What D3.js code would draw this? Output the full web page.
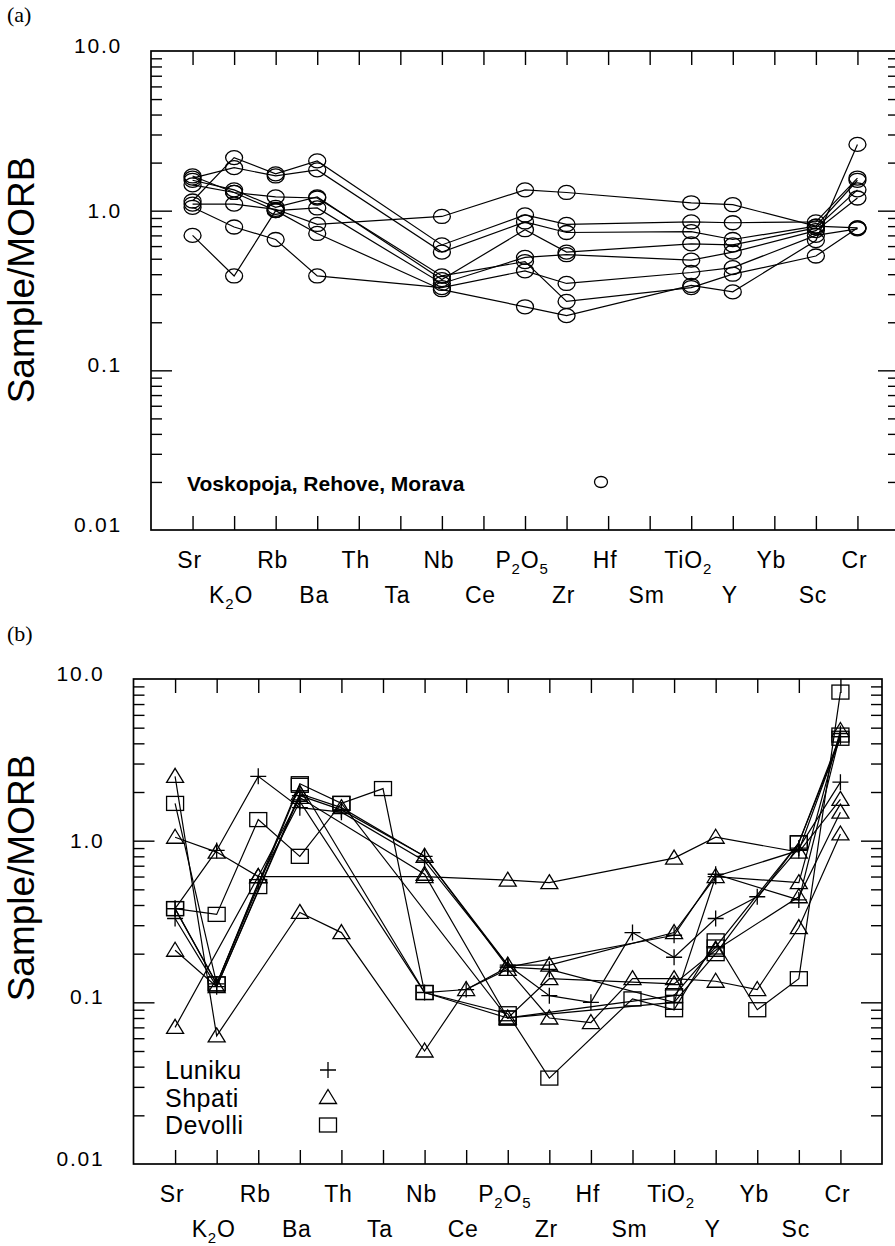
<!DOCTYPE html>
<html>
<head>
<meta charset="utf-8">
<title>Sample/MORB</title>
<script src="https://d3js.org/d3.v7.min.js"></script>
<style>
  body { margin: 0; background: #fff; overflow: hidden; }
  svg text { font-family: "Liberation Sans", Arial, Helvetica, sans-serif; fill: #000; }
</style>
</head>
<body>
<div id="chartDiv"></div>
<script>
// element order on the x axis ("_" marks a subscript digit)
var elements = ["Sr", "K_2O", "Rb", "Ba", "Th", "Ta", "Nb", "Ce", "P_2O_5", "Zr", "Hf", "Sm", "TiO_2", "Y", "Yb", "Sc", "Cr"];

var yTickValues = [0.01, 0.1, 1, 10];
var yTickLabels = ["0.01", "0.1", "1.0", "10.0"];

// (a) Voskopoja, Rehove, Morava  -- null = not plotted
//            Sr    K2O   Rb    Ba    Th    Ta    Nb    Ce    P2O5  Zr    Hf    Sm    TiO2  Y     Yb    Sc    Cr
var voskopoja = [
  [1.15, 2.15, 1.70, 2.05, null, null, 0.61, null, 0.94, 0.82, null, null, 0.85, 0.84, null, 0.85, 1.60],
  [1.60, 1.86, 1.65, 1.80, null, null, 0.55, null, 0.85, 0.73, null, null, 0.74, 0.66, null, 0.80, 1.55],
  [1.55, 1.35, 1.05, 1.22, null, null, 0.37, null, 0.76, 0.55, null, null, 0.62, 0.61, null, 0.78, 1.35],
  [1.45, 1.30, 1.00, 1.04, null, null, 0.35, null, 0.51, 0.53, null, null, 0.49, 0.55, null, 0.75, 1.20],
  [1.10, 1.10, 1.02, 0.82, null, null, 0.92, null, 1.35, 1.30, null, null, 1.12, 1.09, null, 0.80, 0.78],
  [1.05, 0.79, 0.66, 0.39, null, null, 0.33, null, 0.42, 0.35, null, null, 0.41, 0.44, null, 0.70, 0.77],
  [0.70, 0.39, 1.00, 0.72, null, null, 0.32, null, 0.25, 0.22, null, null, 0.34, 0.31, null, 0.65, 2.60],
  [1.65, 1.30, 1.22, 1.20, null, null, 0.39, null, 0.48, 0.27, null, null, 0.33, 0.40, null, 0.52, 0.78]
];

// (b) Luniku (+), Shpati (triangle), Devolli (square)
var luniku = [
  [0.38, 0.87, 2.50, 1.60, 1.50, null, 0.75, null, 0.17, 0.11, 0.10, 0.27, 0.19, 0.33, 0.45, 0.90, 2.30],
  [0.33, 0.125, null, 1.90, 1.55, null, 0.80, null, 0.165, null, null, null, 0.26, 0.62, null, 0.43, 4.60],
  [0.38, 0.13, 0.55, 1.75, null, null, 0.115, 0.12, 0.165, 0.16, null, null, 0.10, 0.60, null, 0.87, 4.40]
];
var shpati = [
  [1.05, 0.85, 0.60, null, null, null, 0.60, null, 0.57, 0.55, null, null, 0.78, 1.05, null, 0.85, 1.80],
  [2.50, 0.062, null, 0.36, 0.27, null, 0.05, 0.12, 0.16, 0.08, 0.075, 0.14, 0.14, 0.135, 0.12, 0.29, 1.10],
  [0.21, 0.125, null, 1.95, 1.60, null, 0.80, null, 0.17, 0.17, null, null, 0.27, 0.60, null, 0.55, 4.80],
  [0.07, null, 0.60, 1.85, null, null, 0.62, null, 0.08, 0.14, null, null, 0.13, 0.21, null, 0.45, 1.50]
];
var devolli = [
  [1.70, 0.13, null, 2.25, 1.70, 2.10, 0.115, null, 0.085, 0.034, null, 0.105, 0.09, 0.24, 0.09, 0.14, 8.30],
  [0.38, 0.35, 1.35, 0.80, 1.70, null, null, null, 0.08, null, null, null, 0.11, 0.22, null, 0.97, 4.50],
  [0.38, 0.13, 0.52, 2.20, null, null, 0.115, null, 0.08, null, null, null, 0.10, 0.20, null, 0.97, 4.30]
];

var legendA = ["Voskopoja, Rehove, Morava"];
var legendB = ["Luniku", "Shpati", "Devolli"];

var width = 895, height = 1246;

var svg = d3.select('#chartDiv')
  .append('svg')
  .attr('width', width)
  .attr('height', height);

// marker shapes, drawn around (0,0)
var markers = {
  circle: function(g) {
    g.append('ellipse').attr('rx', 8.5).attr('ry', 7);
  },
  plus: function(g) {
    g.append('path').attr('d', 'M-8,0H8M0,-8V8');
  },
  triangle: function(g) {
    g.append('path').attr('d', 'M0,-8L8.5,6H-8.5Z');
  },
  square: function(g) {
    g.append('rect').attr('x', -8.5).attr('y', -7).attr('width', 17).attr('height', 14);
  }
};

function addLabel(sel, label) {
  // split "P_2O_5" into text and subscript parts
  var parts = label.split(/(_\d)/).filter(function(p) { return p !== ''; });
  parts.forEach(function(p) {
    if (p[0] === '_') {
      sel.append('tspan').attr('dy', 6).style('font-size', '15px').text(p[1]);
    } else {
      var t = sel.append('tspan').text(p);
      if (sel.selectAll('tspan').size() > 1) t.attr('dy', -6);
    }
  });
}

function drawPanel(box, groups, tag) {
  var x = d3.scaleLinear()
    .domain([-1, elements.length])
    .range([box.left, box.right]);

  var y = d3.scaleLog()
    .domain([0.01, 10])
    .range([box.bottom, box.top]);

  var g = svg.append('g');

  // panel tag
  g.append('text')
    .attr('x', 7).attr('y', box.tagY)
    .style('font-family', '"Liberation Serif", "Times New Roman", serif')
    .style('font-size', '22px')
    .text(tag);

  // minor ticks 2..9 in each decade
  var minor = [];
  [0.01, 0.1, 1].forEach(function(d) {
    for (var k = 2; k <= 9; k++) minor.push(d * k);
  });

  function strip(a) { a.select('.domain').remove(); a.selectAll('text').remove(); }

  g.append('g').attr('class', 'axis')
    .attr('transform', 'translate(' + box.left + ',0)')
    .call(d3.axisLeft(y).tickValues(minor).tickSize(-11)).call(strip);
  g.append('g').attr('class', 'axis')
    .attr('transform', 'translate(' + box.left + ',0)')
    .call(d3.axisLeft(y).tickValues([0.1, 1]).tickSize(-21)).call(strip);
  g.append('g').attr('class', 'axis')
    .attr('transform', 'translate(' + box.right + ',0)')
    .call(d3.axisRight(y).tickValues(minor).tickSize(-11)).call(strip);
  g.append('g').attr('class', 'axis')
    .attr('transform', 'translate(' + box.right + ',0)')
    .call(d3.axisRight(y).tickValues([0.1, 1]).tickSize(-21)).call(strip);

  g.append('g').attr('class', 'axis')
    .attr('transform', 'translate(0,' + box.top + ')')
    .call(d3.axisTop(x).tickValues(d3.range(elements.length)).tickSize(-14)).call(strip);
  g.append('g').attr('class', 'axis')
    .attr('transform', 'translate(0,' + box.bottom + ')')
    .call(d3.axisBottom(x).tickValues(d3.range(elements.length)).tickSize(-14)).call(strip);

  g.selectAll('.axis line')
    .attr('stroke', '#000')
    .attr('stroke-width', 1.4);

  // frame
  g.append('rect')
    .attr('x', box.left).attr('y', box.top)
    .attr('width', box.right - box.left)
    .attr('height', box.bottom - box.top)
    .attr('fill', 'none')
    .attr('stroke', '#000')
    .attr('stroke-width', 1.7);

  // y tick labels
  g.selectAll('.ylab')
    .data(yTickValues)
    .enter().append('text')
    .attr('x', box.left - 29)
    .attr('y', function(d) { return y(d) + (d === 1 ? 7 : 2); })
    .attr('text-anchor', 'end')
    .style('font-size', '21px')
    .style('letter-spacing', '1.8px')
    .text(function(d, i) { return yTickLabels[i]; });

  // y axis title
  g.append('text')
    .attr('transform', 'translate(' + 34 + ',' + box.titleY + ') rotate(-90)')
    .attr('text-anchor', 'middle')
    .style('font-size', '37px')
    .text('Sample/MORB');

  // x labels in two staggered rows
  elements.forEach(function(el, i) {
    var t = g.append('text')
      .attr('x', x(i) - 3)
      .attr('y', box.bottom + (i % 2 === 0 ? 38 : 73))
      .attr('text-anchor', 'middle')
      .style('font-size', '23px')
      .style('letter-spacing', '0.8px')
      .text(null);
    addLabel(t, el);
  });

  // sample lines and markers
  var line = d3.line()
    .x(function(d) { return x(d.i); })
    .y(function(d) { return y(d.v); });

  groups.forEach(function(grp) {
    grp.data.forEach(function(sample) {
      var pts = [];
      sample.forEach(function(v, i) { if (v != null) pts.push({i: i, v: v}); });

      g.append('path')
        .datum(pts)
        .attr('d', line)
        .attr('fill', 'none')
        .attr('stroke', '#000')
        .attr('stroke-width', 1.2);

      g.selectAll(null)
        .data(pts)
        .enter().append('g')
        .attr('transform', function(d) { return 'translate(' + x(d.i) + ',' + y(d.v) + ')'; })
        .each(function() { markers[grp.shape](d3.select(this)); })
        .selectAll('*')
        .attr('fill', 'none')
        .attr('stroke', '#000')
        .attr('stroke-width', 1.3);
    });
  });

  return {x: x, y: y, g: g};
}

// ---- panel (a)
var pa = drawPanel({left: 151, right: 899, top: 51, bottom: 530, tagY: 22, titleY: 280},
  [{shape: 'circle', data: voskopoja}], '(a)');

pa.g.append('text')
  .attr('x', 187).attr('y', 491)
  .style('font-size', '21px')
  .style('font-weight', 'bold')
  .text(legendA[0]);
pa.g.append('ellipse')
  .attr('cx', 601).attr('cy', 482)
  .attr('rx', 6.5).attr('ry', 5.5)
  .attr('fill', 'none').attr('stroke', '#000').attr('stroke-width', 1.3);

// ---- panel (b)
var pb = drawPanel({left: 133.5, right: 882, top: 679, bottom: 1164, tagY: 641, titleY: 878},
  [{shape: 'plus', data: luniku}, {shape: 'triangle', data: shpati}, {shape: 'square', data: devolli}], '(b)');

var legShapes = ['plus', 'triangle', 'square'];
legendB.forEach(function(name, i) {
  var cy = 1070 + i * 27.5;
  pb.g.append('text')
    .attr('x', 165).attr('y', cy + 9)
    .style('font-size', '25px')
    .style('letter-spacing', '0.5px')
    .text(name);
  var m = pb.g.append('g').attr('transform', 'translate(328,' + cy + ')');
  markers[legShapes[i]](m);
  m.selectAll('*').attr('fill', 'none').attr('stroke', '#000').attr('stroke-width', 1.3);
});
</script>
</body>
</html>
